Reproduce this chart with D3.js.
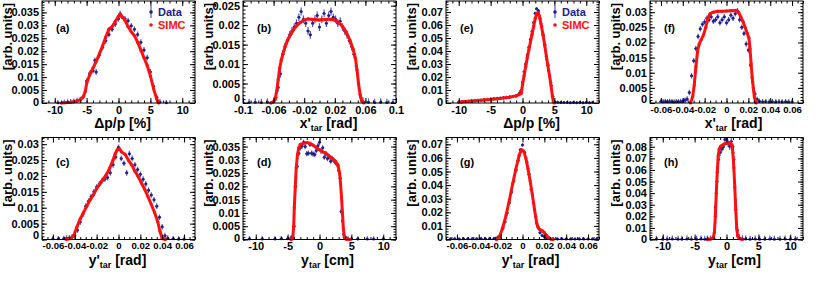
<!DOCTYPE html>
<html>
<head>
<meta charset="utf-8">
<script src="https://cdn.jsdelivr.net/npm/d3@7"></script>
<style>
  body { margin: 0; background: #fff; }
  text { font-family: "Liberation Sans", Arial, sans-serif; font-weight: bold; }
</style>
</head>
<body>
<svg id="chart" width="830" height="284"></svg>
<script>
/* ---- values: [x, y] ---- */

// (a) delta p / p [%]
const dataA = [[-9.5,0.0001],[-8.5,0.0002],[-8,0.0003],[-7.5,0.0004],[-7,0.0006],[-6.5,0.0009],[-6,0.0013],[-5.5,0.0025],
  [-5,0.0085],[-4.5,0.0115],[-4,0.0125],[-3.7,0.0165],[-3.5,0.012],[-3,0.0185],[-2.5,0.0215],[-2,0.024],[-1.5,0.0265],
  [-1,0.0285],[-0.5,0.0305],[0,0.0325],[0.25,0.0345],[0.5,0.0335],[1,0.0325],[1.5,0.0318],[2,0.0298],[2.5,0.0285],
  [3,0.0265],[3.5,0.0235],[4,0.0205],[4.5,0.0175],[5,0.012],[5.5,0.0065],[6,0.0022],[6.5,0.0004],[7.5,0.0001]];
const simcA = [[-9,0],[-8.5,0.0001],[-8,0.0002],[-7.5,0.0003],[-7,0.0005],[-6.5,0.0008],[-6,0.0012],[-5.5,0.0025],
  [-5.2,0.0045],[-5,0.0075],[-4.5,0.011],[-4,0.0135],[-3.5,0.016],[-3,0.019],[-2.5,0.022],[-2,0.0255],[-1.5,0.0285],
  [-1,0.0295],[-0.5,0.0315],[0,0.0335],[0.3,0.0342],[0.5,0.0335],[1,0.032],[1.5,0.0295],[2,0.0275],[2.5,0.026],
  [3,0.0235],[3.5,0.0205],[4,0.0175],[4.5,0.0145],[5,0.0105],[5.5,0.0055],[6,0.0015],[6.3,0]];

// (b) x'tar [rad]
const dataB = [[-0.1,0.0001],[-0.092,0.0001],[-0.084,0.0002],[-0.076,0.0001],[-0.068,0.0002],[-0.06,0.0004],[-0.057,0.0015],
  [-0.054,0.004],[-0.051,0.0075],[-0.048,0.0125],[-0.045,0.0145],[-0.042,0.016],[-0.039,0.0175],[-0.036,0.0185],
  [-0.033,0.0195],[-0.03,0.0205],[-0.027,0.022],[-0.024,0.0235],[-0.021,0.0215],[-0.018,0.0205],[-0.015,0.0185],
  [-0.012,0.0175],[-0.009,0.0205],[-0.006,0.0215],[-0.003,0.0225],[0,0.0195],[0.003,0.0215],[0.006,0.023],
  [0.009,0.0205],[0.012,0.0225],[0.015,0.0235],[0.018,0.022],[0.021,0.0215],[0.024,0.0205],[0.027,0.021],
  [0.03,0.0195],[0.033,0.0185],[0.036,0.0175],[0.039,0.016],[0.042,0.0145],[0.045,0.0125],[0.048,0.0095],
  [0.051,0.005],[0.054,0.0015],[0.057,0.0004],[0.064,0.0002],[0.072,0.0001],[0.08,0.0002],[0.088,0.0001],[0.096,0.0001]];
const simcB = [[-0.064,0],[-0.06,0.0003],[-0.058,0.001],[-0.056,0.003],[-0.054,0.006],[-0.052,0.009],[-0.05,0.011],
  [-0.048,0.0125],[-0.045,0.0145],[-0.042,0.016],[-0.038,0.0175],[-0.034,0.0188],[-0.03,0.0198],[-0.025,0.0207],
  [-0.02,0.0213],[-0.015,0.0216],[-0.01,0.0215],[-0.005,0.0214],[0,0.0213],[0.005,0.0214],[0.01,0.0215],[0.015,0.0215],
  [0.02,0.0213],[0.025,0.0207],[0.03,0.0197],[0.035,0.0182],[0.04,0.016],[0.044,0.0138],[0.047,0.0115],[0.049,0.0085],
  [0.051,0.005],[0.053,0.0022],[0.055,0.0006],[0.058,0]];

// (e) delta p / p [%]
const dataE = [[-10,0.0005],[-9.5,0.0008],[-9,0.001],[-8.5,0.0012],[-8,0.0015],[-7.5,0.0017],[-7,0.002],[-6.5,0.0022],
  [-6,0.0025],[-5.5,0.0027],[-5,0.003],[-4.5,0.0032],[-4,0.0035],[-3.5,0.0037],[-3,0.004],[-2.5,0.0043],[-2,0.0046],
  [-1.5,0.005],[-1,0.0055],[-0.5,0.0075],[-0.25,0.0095],[0,0.016],[0.25,0.024],[0.5,0.03],[0.75,0.037],[1,0.043],
  [1.25,0.049],[1.5,0.055],[1.75,0.062],[2,0.069],[2.2,0.0725],[2.5,0.071],[2.75,0.065],[3,0.059],[3.25,0.052],
  [3.5,0.045],[3.75,0.036],[4,0.029],[4.25,0.021],[4.5,0.0135],[4.75,0.005],[5,0.001],[5.5,0.0005],[6,0.0003],
  [6.5,0.0003],[7,0.0003],[7.5,0.0002],[8,0.0003],[8.5,0.0002],[9,0.0003],[9.5,0.0002],[10,0.0003],[10.5,0.0002],[11,0.0003]];
const simcE = [[-10,0.0008],[-8,0.0015],[-6,0.0024],[-4,0.0033],[-2,0.0045],[-1,0.0055],[-0.5,0.0065],[-0.2,0.0075],
  [0,0.014],[0.25,0.021],[0.5,0.028],[0.75,0.035],[1,0.041],[1.25,0.047],[1.5,0.053],[1.75,0.059],[2,0.065],
  [2.25,0.069],[2.45,0.0695],[2.65,0.067],[2.9,0.061],[3.2,0.053],[3.5,0.044],[3.8,0.034],[4.1,0.025],[4.4,0.016],
  [4.7,0.005],[4.85,0.001],[5,0]];

// (f) x'tar [rad]
const dataF = [[-0.06,0.0005],[-0.058,0.0004],[-0.056,0.0005],[-0.054,0.0004],[-0.052,0.0005],[-0.05,0.0004],
  [-0.048,0.0003],[-0.046,0.0004],[-0.044,0.0004],[-0.042,0.0005],[-0.04,0.0006],[-0.038,0.0009],[-0.036,0.0013],
  [-0.034,0.0035],[-0.032,0.009],[-0.03,0.014],[-0.028,0.018],[-0.026,0.022],[-0.024,0.0245],[-0.022,0.026],
  [-0.02,0.0268],[-0.018,0.028],[-0.016,0.0275],[-0.014,0.0285],[-0.012,0.027],[-0.01,0.0275],[-0.008,0.0285],
  [-0.006,0.0265],[-0.004,0.0275],[-0.002,0.0285],[0,0.0265],[0.002,0.0275],[0.004,0.029],[0.006,0.028],
  [0.008,0.0295],[0.01,0.0305],[0.012,0.0275],[0.014,0.025],[0.016,0.023],[0.018,0.0195],[0.02,0.0175],
  [0.022,0.0125],[0.024,0.007],[0.026,0.003],[0.028,0.0012],[0.03,0.0006],[0.033,0.0004],[0.036,0.0004],
  [0.039,0.0003],[0.042,0.0004],[0.045,0.0003],[0.048,0.0004],[0.051,0.0003],[0.054,0.0004],[0.057,0.0003],[0.06,0.0003]];
const simcF = [[-0.033,0],[-0.031,0.002],[-0.0295,0.006],[-0.028,0.012],[-0.0265,0.017],[-0.025,0.0195],[-0.023,0.021],
  [-0.021,0.0225],[-0.019,0.025],[-0.017,0.028],[-0.015,0.0295],[-0.012,0.03],[-0.008,0.0303],[-0.004,0.0303],
  [0,0.0304],[0.004,0.0305],[0.008,0.0306],[0.011,0.03],[0.013,0.0285],[0.015,0.027],[0.017,0.025],[0.019,0.023],
  [0.0205,0.0215],[0.0215,0.018],[0.0225,0.013],[0.0235,0.0085],[0.0245,0.005],[0.0255,0.002],[0.027,0]];

// (c) y'tar [rad]
const dataC = [[-0.06,0.0002],[-0.055,0.0002],[-0.05,0.0003],[-0.0475,0.0004],[-0.045,0.0005],[-0.0425,0.0008],
  [-0.04,0.0012],[-0.0375,0.003],[-0.035,0.0055],[-0.0325,0.008],[-0.03,0.0105],[-0.0275,0.012],[-0.025,0.0135],
  [-0.0225,0.015],[-0.02,0.0165],[-0.0175,0.0175],[-0.015,0.0185],[-0.0125,0.019],[-0.01,0.0195],[-0.0075,0.021],
  [-0.005,0.0235],[-0.0025,0.026],[0,0.029],[0.0025,0.0255],[0.005,0.024],[0.0075,0.021],[0.01,0.027],
  [0.0125,0.0255],[0.015,0.0235],[0.0175,0.022],[0.02,0.0205],[0.0225,0.019],[0.025,0.0175],[0.0275,0.0155],
  [0.03,0.014],[0.0325,0.0125],[0.035,0.0105],[0.0375,0.007],[0.04,0.004],[0.0425,0.0012],[0.045,0.0004],
  [0.05,0.0002],[0.055,0.0001],[0.06,0.0001]];
const simcC = [[-0.048,0],[-0.044,0.0003],[-0.041,0.0012],[-0.038,0.004],[-0.035,0.0065],[-0.032,0.0085],[-0.029,0.0105],
  [-0.026,0.0125],[-0.023,0.014],[-0.02,0.016],[-0.017,0.0175],[-0.014,0.019],[-0.011,0.0205],[-0.008,0.0225],
  [-0.005,0.025],[-0.003,0.027],[-0.001,0.0283],[0.001,0.0285],[0.003,0.0275],[0.006,0.0268],[0.009,0.025],
  [0.012,0.0235],[0.015,0.0215],[0.018,0.0198],[0.021,0.0178],[0.024,0.0158],[0.027,0.0135],[0.03,0.011],
  [0.033,0.0085],[0.036,0.0055],[0.038,0.0025],[0.04,0.0003],[0.043,0]];

// (d) ytar [cm]
const dataD = [[-11,0.0002],[-9,0.0002],[-7,0.0002],[-6,0.0003],[-5,0.0003],[-4.5,0.0005],[-4.25,0.001],[-4,0.005],
  [-3.75,0.02],[-3.5,0.0275],[-3.25,0.0325],[-3,0.0345],[-2.75,0.0352],[-2.5,0.0366],[-2.25,0.035],[-2,0.0323],
  [-1.75,0.0325],[-1.5,0.0358],[-1.25,0.0325],[-1,0.0322],[-0.75,0.032],[-0.5,0.0335],[-0.25,0.0353],[0,0.0366],
  [0.25,0.0333],[0.5,0.0345],[0.75,0.031],[1,0.0322],[1.25,0.0305],[1.5,0.031],[1.75,0.0295],[2,0.0305],
  [2.25,0.0298],[2.5,0.029],[2.75,0.0282],[3,0.026],[3.25,0.023],[3.4,0.0105],[3.6,0.007],[3.8,0.002],
  [4,0.0008],[4.25,0.0004],[4.5,0.0002],[5,0.0002],[6,0.0002],[7.5,0.0002],[8.5,0.0002],[10,0.0002]];
const simcD = [[-4.5,0],[-4.2,0.0003],[-4.05,0.005],[-3.95,0.012],[-3.8,0.02],[-3.65,0.027],[-3.45,0.032],[-3.25,0.0345],
  [-3,0.0358],[-2.5,0.0362],[-2,0.0365],[-1.5,0.0362],[-1,0.0355],[-0.5,0.0345],[0,0.0338],[0.5,0.033],[1,0.0325],
  [1.5,0.0315],[2,0.0305],[2.5,0.0295],[2.9,0.028],[3.15,0.025],[3.3,0.021],[3.45,0.016],[3.6,0.01],[3.75,0.004],
  [3.9,0.0008],[4.2,0.0001],[4.8,0]];

// (g) y'tar [rad]
const dataG = [[-0.066,0.0004],[-0.062,0.0005],[-0.058,0.0004],[-0.054,0.0006],[-0.05,0.0005],[-0.046,0.0006],
  [-0.042,0.0005],[-0.038,0.0007],[-0.034,0.0006],[-0.03,0.0008],[-0.026,0.0008],[-0.024,0.001],[-0.022,0.002],
  [-0.02,0.0035],[-0.018,0.008],[-0.016,0.013],[-0.014,0.0195],[-0.012,0.027],[-0.01,0.035],[-0.008,0.043],
  [-0.006,0.051],[-0.004,0.058],[-0.002,0.066],[0,0.0695],[0.002,0.064],[0.004,0.057],[0.006,0.048],[0.008,0.037],
  [0.01,0.027],[0.012,0.017],[0.014,0.0095],[0.016,0.005],[0.018,0.003],[0.02,0.002],[0.022,0.0015],[0.024,0.001],
  [0.028,0.0005],[0.032,0.0004],[0.036,0.0005],[0.04,0.0004],[0.044,0.0004],[0.048,0.0003],[0.052,0.0004],
  [0.056,0.0003],[0.06,0.0004],[0.064,0.0003],[0.068,0.0003]];
const simcG = [[-0.024,0],[-0.021,0.002],[-0.018,0.009],[-0.015,0.018],[-0.012,0.029],[-0.009,0.041],[-0.006,0.052],
  [-0.003,0.062],[-0.001,0.066],[0.001,0.065],[0.003,0.06],[0.005,0.052],[0.007,0.043],[0.009,0.033],[0.011,0.022],
  [0.013,0.012],[0.0145,0.0085],[0.016,0.0072],[0.018,0.0065],[0.02,0.005],[0.022,0.003],[0.024,0.0012],
  [0.026,0.0003],[0.028,0]];

// (h) ytar [cm]
const dataH = [[-11,0.0003],[-10,0.0003],[-9.3,0.0003],[-8.5,0.0004],[-7.6,0.0003],[-7,0.0003],[-6.2,0.0004],
  [-5.5,0.0003],[-4.7,0.0003],[-4,0.0004],[-3.4,0.0003],[-3,0.0004],[-2.5,0.0005],[-2,0.001],[-1.75,0.028],
  [-1.5,0.05],[-1.25,0.069],[-1,0.075],[-0.75,0.078],[-0.5,0.08],[-0.25,0.0863],[0,0.0862],[0.25,0.083],
  [0.5,0.0805],[0.75,0.0845],[1,0.08],[1.15,0.069],[1.4,0.034],[1.7,0.008],[2,0.0015],[2.5,0.0006],[3,0.0004],
  [3.7,0.0003],[4.5,0.0004],[5.2,0.0003],[6,0.0003],[6.8,0.0004],[7.5,0.0003],[8.4,0.0003],[9.2,0.0004],[10,0.0003],[10.8,0.0003]];
const simcH = [[-3,0],[-2.5,0.0005],[-2.1,0.0015],[-1.9,0.006],[-1.75,0.02],[-1.6,0.04],[-1.45,0.058],[-1.3,0.072],
  [-1.15,0.078],[-0.9,0.0805],[-0.6,0.0815],[-0.3,0.0825],[0,0.083],[0.3,0.0835],[0.6,0.0838],[0.85,0.081],
  [1,0.075],[1.15,0.062],[1.3,0.045],[1.45,0.026],[1.6,0.01],[1.75,0.003],[2,0.0008],[2.5,0]];

/* ---- tick labels ---- */
const ticksCm = [-10, -5, 0, 5, 10];
const ticksB = [-0.1, -0.06, -0.02, 0.02, 0.06, 0.1];
const ticksRad = [-0.06, -0.04, -0.02, 0, 0.02, 0.04, 0.06];
const yTicks025 = [0, 0.005, 0.01, 0.015, 0.02, 0.025];
const yTicks03 = [0, 0.005, 0.01, 0.015, 0.02, 0.025, 0.03];
const yTicks035 = [0, 0.005, 0.01, 0.015, 0.02, 0.025, 0.03, 0.035];
const yTicks07 = [0, 0.01, 0.02, 0.03, 0.04, 0.05, 0.06, 0.07];
const yTicks08 = [0, 0.01, 0.02, 0.03, 0.04, 0.05, 0.06, 0.07, 0.08];

const dataColor = '#20208c', errColor = '#5656b8', simcColor = '#ff1010';

/* Frame geometry */
const W = 153, H = 102;
const colX = [42, 243, 446, 650];
const rowY = [1, 137.5];

const panels = [
  {id:'a', col:0, row:0, data:dataA, simc:simcA, xDom:[-12,12], yMax:0.0394, xTicks:ticksCm, xMinor:1, yTicks:yTicks035, yMinor:0.001, err:0.0011, title:'dp', tdx:4, legend:true},
  {id:'b', col:1, row:0, data:dataB, simc:simcB, xDom:[-0.1,0.1], yMax:0.0262, xTicks:ticksB, xMinor:0.01, yTicks:yTicks025, yMinor:0.001, err:0.001, title:'xp', tdx:9},
  {id:'e', col:2, row:0, data:dataE, simc:simcE, xDom:[-12,12], yMax:0.0785, xTicks:ticksCm, xMinor:1, yTicks:yTicks07, yMinor:0.002, err:0.0013, title:'dp', tdx:9, legend:true},
  {id:'f', col:3, row:0, data:dataF, simc:simcF, xDom:[-0.07,0.07], yMax:0.0337, xTicks:ticksRad, xMinor:0.005, yTicks:yTicks03, yMinor:0.001, err:0.0009, title:'xp', tdx:7},
  {id:'c', col:0, row:1, data:dataC, simc:simcC, xDom:[-0.07,0.07], yMax:0.0321, xTicks:ticksRad, xMinor:0.005, yTicks:yTicks03, yMinor:0.001, err:0.0009, title:'yp', tdx:-1},
  {id:'d', col:1, row:1, data:dataD, simc:simcD, xDom:[-12,12], yMax:0.0384, xTicks:ticksCm, xMinor:1, yTicks:yTicks035, yMinor:0.001, err:0.001, title:'y', tdx:8},
  {id:'g', col:2, row:1, data:dataG, simc:simcG, xDom:[-0.07,0.07], yMax:0.075, xTicks:ticksRad, xMinor:0.005, yTicks:yTicks07, yMinor:0.002, err:0.0012, title:'yp', tdx:8},
  {id:'h', col:3, row:1, data:dataH, simc:simcH, xDom:[-12,12], yMax:0.088, xTicks:ticksCm, xMinor:1, yTicks:yTicks08, yMinor:0.002, err:0.003, title:'y', tdx:8}
];

const svg = d3.select('#chart');
svg.append('rect').attr('width', 830).attr('height', 284).attr('fill', '#fff');

function minorTicks(lo, hi, step) {
  return d3.range(Math.ceil(lo / step - 1e-9), Math.floor(hi / step + 1e-9) + 1).map(i => +(i * step).toFixed(6));
}

function axisTitle(p, x0, y0) {
  const t = svg.append('text')
    .attr('x', x0 + W / 2 + p.tdx)
    .attr('y', y0 + H + 25)
    .attr('text-anchor', 'middle')
    .style('font-size', '14px');
  if (p.title === 'dp') { t.text('\u0394p/p [%]'); return; }
  const head = {xp: "x'", yp: "y'", y: 'y'}[p.title];
  const unit = p.title === 'y' ? ' [cm]' : ' [rad]';
  t.append('tspan').text(head);
  t.append('tspan').attr('dy', 3).style('font-size', '9px').text('tar');
  t.append('tspan').attr('dy', -3).text(unit);
}

panels.forEach(p => {
  const x0 = colX[p.col], y0 = rowY[p.row];
  const x = d3.scaleLinear().domain(p.xDom).range([0, W]);
  const y = d3.scaleLinear().domain([0, p.yMax]).range([H, 0]);
  const g = svg.append('g').attr('transform', `translate(${x0},${y0})`);

  g.append('clipPath').attr('id', 'clip-' + p.id)
    .append('rect').attr('x', 0).attr('y', 0).attr('width', W).attr('height', H + 2);

  /* Data: error bars + markers */
  const pts = g.append('g').attr('clip-path', `url(#clip-${p.id})`);
  pts.selectAll('line.ey').data(p.data).join('line').attr('class', 'ey')
    .attr('x1', d => x(d[0])).attr('x2', d => x(d[0]))
    .attr('y1', d => y(Math.max(0, d[1] - p.err))).attr('y2', d => y(d[1] + p.err))
    .attr('stroke', errColor).attr('stroke-width', 1.2);
  pts.selectAll('line.ex').data(p.data).join('line').attr('class', 'ex')
    .attr('x1', d => x(d[0]) - 1.5).attr('x2', d => x(d[0]) + 1.5)
    .attr('y1', d => y(d[1])).attr('y2', d => y(d[1]))
    .attr('stroke', errColor).attr('stroke-width', 1);
  pts.selectAll('circle.dp').data(p.data).join('circle').attr('class', 'dp')
    .attr('cx', d => x(d[0])).attr('cy', d => y(d[1])).attr('r', 1.5)
    .attr('fill', dataColor);

  /* SIMC */
  const line = d3.line().x(d => x(d[0])).y(d => y(d[1]));
  pts.append('path').datum(p.simc).attr('d', line)
    .attr('fill', 'none').attr('stroke', simcColor).attr('stroke-width', 3)
    .attr('stroke-linejoin', 'round');
  pts.selectAll('circle.sp').data(p.simc).join('circle').attr('class', 'sp')
    .attr('cx', d => x(d[0])).attr('cy', d => y(d[1])).attr('r', 1.6)
    .attr('fill', simcColor);

  /* Axes, ticks pointing inward on all four sides */
  const xMin = minorTicks(p.xDom[0], p.xDom[1], p.xMinor);
  const yMin = minorTicks(0, p.yMax, p.yMinor);
  const addAxis = (axis, tr, vals, size, fmt, fs) => {
    const a = g.append('g').attr('transform', tr)
      .call(axis.tickValues(vals).tickSize(size).tickPadding(3).tickFormat(fmt));
    a.select('.domain').remove();
    a.selectAll('line').attr('stroke', '#000');
    a.selectAll('text').attr('fill', '#000').style('font-size', (fs || 11) + 'px')
      .style('font-family', '"Liberation Sans", Arial, sans-serif');
    return a;
  };
  const lab = d => String(d);
  const xfs = p.xTicks === ticksRad ? 9.6 : 11;
  addAxis(d3.axisBottom(x), `translate(0,${H})`, xMin, -2.5, '');
  addAxis(d3.axisBottom(x), `translate(0,${H})`, p.xTicks, -5, lab, xfs);
  addAxis(d3.axisTop(x), 'translate(0,0)', xMin, -2.5, '');
  addAxis(d3.axisTop(x), 'translate(0,0)', p.xTicks, -5, '');
  addAxis(d3.axisLeft(y), 'translate(0,0)', yMin, -2.5, '');
  const yAx = addAxis(d3.axisLeft(y), 'translate(0,0)', p.yTicks, -5, lab);
  // the zero label sits a little higher, clear of the x labels
  const gap = y(0) - y(p.yTicks[1]);
  const lift = Math.max(0, Math.min(5, gap - 11.5));
  yAx.selectAll('.tick').filter(d => d === 0).select('text').attr('y', -lift);
  addAxis(d3.axisRight(y), `translate(${W},0)`, yMin, -2.5, '');
  addAxis(d3.axisRight(y), `translate(${W},0)`, p.yTicks, -5, '');

  g.append('rect').attr('width', W).attr('height', H)
    .attr('fill', 'none').attr('stroke', '#000').attr('stroke-width', 1);

  /* Panel tag */
  g.append('text').attr('x', 14).attr('y', y0 === rowY[0] ? 31 : 28)
    .style('font-size', '11px').text(`(${p.id})`);

  /* Y title */
  svg.append('text')
    .attr('transform', `translate(${x0 - 30},${y0 + 2}) rotate(-90)`)
    .attr('text-anchor', 'end').style('font-size', '13px')
    .text('[arb. units]');

  axisTitle(p, x0, y0);

  /* Legend */
  if (p.legend) {
    const lg = g.append('g').attr('transform', `translate(${W - 44},0)`);
    lg.append('line').attr('x1', 0).attr('x2', 0).attr('y1', 5).attr('y2', 17)
      .attr('stroke', errColor).attr('stroke-width', 1.2);
    lg.append('circle').attr('cx', 0).attr('cy', 11).attr('r', 1.8).attr('fill', dataColor);
    lg.append('text').attr('x', 7).attr('y', 15).attr('fill', dataColor)
      .style('font-size', '11px').text('Data');
    lg.append('circle').attr('cx', 0).attr('cy', 24).attr('r', 1.8).attr('fill', simcColor);
    lg.append('text').attr('x', 7).attr('y', 28).attr('fill', simcColor)
      .style('font-size', '11px').text('SIMC');
  }
});
</script>
</body>
</html>
